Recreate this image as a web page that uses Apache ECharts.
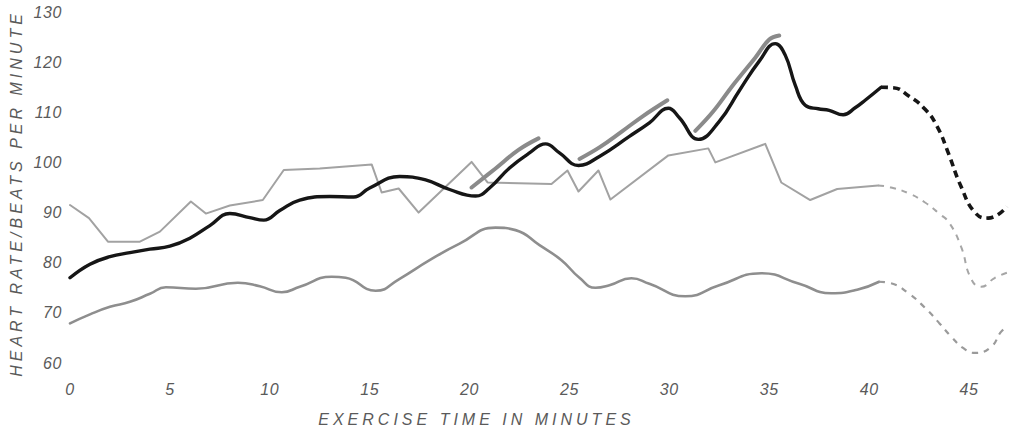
<!DOCTYPE html>
<html>
<head>
<meta charset="utf-8">
<script src="https://cdn.jsdelivr.net/npm/echarts@6/dist/echarts.min.js"></script>
<style>
  html, body { margin: 0; padding: 0; background: #fff; }
  #chart { width: 1010px; height: 436px; }
</style>
</head>
<body>
<div id="chart"></div>
<script>
// ---- data (minutes, beats per minute) ----
const yTicks = [60, 70, 80, 90, 100, 110, 120, 130];
const xTicks = [0, 5, 10, 15, 20, 25, 30, 35, 40, 45];

const blackSolid = [
  [0, 77.0], [1, 79.7], [2, 81.2], [3, 82.0], [4, 82.7], [5, 83.3], [6, 84.9],
  [7, 87.4], [8, 89.8], [9, 89.0], [9.7, 88.5], [10.5, 90.4], [11.5, 92.5],
  [13, 93.2], [14.2, 93.1], [15, 94.9], [16.5, 97.2], [17.8, 96.5], [19, 94.6],
  [20.3, 93.3], [21, 94.9], [22, 98.9], [23, 101.9], [23.8, 103.7], [24.5, 101.9],
  [25.45, 99.4], [26.5, 101.2], [28, 105.2], [29, 107.9], [29.95, 110.8],
  [30.5, 108.9], [31.45, 104.6], [32.5, 108.2], [33.5, 114.3], [34.5, 120.2],
  [35.3, 123.7], [35.8, 121.4], [36.3, 115.4], [36.8, 111.4], [37.45, 110.7],
  [38, 110.4], [38.7, 109.5], [39.3, 110.9], [39.8, 112.4], [40.6, 115.0]
];
const blackDashed = [
  [40.6, 115.0], [41.2, 114.9], [42, 113.2], [42.8, 110.6], [43.4, 107.2],
  [43.95, 102.0], [44.6, 95.2], [45.3, 90.0], [45.95, 88.9], [46.9, 91.2]
];
const highlight1 = [[20.1, 95.0], [21.3, 98.8], [22.45, 102.5], [23.45, 104.8]];
const highlight2 = [[25.5, 100.7], [26.5, 103.0], [27.6, 106.1], [28.7, 109.3], [29.9, 112.4]];
const highlight3 = [[31.3, 106.3], [32.2, 110.2], [33.2, 115.5], [34.3, 120.9], [35.0, 124.5], [35.5, 125.3]];

const graySolid = [
  [0, 91.5], [0.95, 88.9], [1.9, 84.2], [3.5, 84.2], [4.5, 86.2], [6.05, 92.2],
  [6.8, 89.8], [8, 91.4], [9.65, 92.5], [10.7, 98.5], [12.5, 98.8], [15.1, 99.6],
  [15.6, 94.0], [16.45, 94.8], [17.45, 90.0], [20.1, 100.1], [20.9, 96.0],
  [24.1, 95.7], [24.9, 98.4], [25.45, 94.2], [26.45, 98.4], [27.05, 92.6],
  [29.95, 101.4], [31.95, 102.8], [32.3, 100.0], [34.8, 103.7], [35.6, 96.0],
  [37.05, 92.5], [38.4, 94.7], [40.45, 95.4]
];
const grayDashed = [
  [40.45, 95.4], [41.1, 95.0], [42, 93.8], [42.8, 92.0], [43.5, 89.8], [44, 88.0],
  [44.6, 83.2], [45.1, 76.8], [45.6, 75.2], [46.3, 77.0], [46.9, 78.0]
];

const lowerSolid = [
  [0, 67.9], [1, 69.7], [2, 71.2], [3, 72.2], [4, 73.8], [4.8, 75.1], [6.3, 74.8],
  [8.4, 76.0], [9.5, 75.3], [10.6, 74.1], [11.5, 75.2], [13.1, 77.2], [13.8, 77.0],
  [15.3, 74.4], [16.5, 76.8], [18, 80.5], [19.5, 83.8], [21.3, 87.0], [22.3, 86.5],
  [23.5, 83.5], [24.6, 80.5], [25.5, 77.0], [26.3, 75.0], [27, 75.5], [28.1, 76.9],
  [29, 75.8], [30.8, 73.3], [32.5, 75.5], [34.6, 77.9], [36.5, 75.8], [38.1, 73.9],
  [39.4, 74.6], [40.5, 76.2]
];
const lowerDashed = [
  [40.5, 76.2], [41.1, 75.9], [42, 73.8], [42.8, 71.0], [43.5, 68.0], [44.1, 65.3],
  [44.7, 63.0], [45.3, 62.0], [46.1, 63.2], [46.6, 66.2], [46.9, 67.2]
];

const xName = 'EXERCISE TIME IN MINUTES';
const yName = 'HEART RATE/BEATS PER MINUTE';

// ---- chart ----
const chart = echarts.init(document.getElementById('chart'), null, { renderer: 'svg' });
const FONT = 'Liberation Sans';
const TXT = '#5a5a5a';

function line(data, color, width, opts) {
  return Object.assign({
    type: 'line', data: data, symbol: 'none', silent: true,
    lineStyle: { color: color, width: width, cap: 'round', join: 'round' },
    emphasis: { disabled: true }
  }, opts || {});
}

chart.setOption({
  animation: false,
  backgroundColor: '#ffffff',
  grid: { left: 70, right: 0, top: 12, bottom: 73 },
  xAxis: {
    type: 'value', min: 0, max: 46.9, interval: 5,
    name: xName, nameLocation: 'middle', nameGap: 48,
    nameTextStyle: { fontFamily: FONT, fontStyle: 'italic', fontSize: 16, color: TXT, padding: [0, 124, 0, 0] },
    axisLine: { show: false }, axisTick: { show: false }, splitLine: { show: false },
    axisLabel: {
      fontFamily: FONT, fontStyle: 'italic', fontSize: 16, color: TXT, margin: 18,
      formatter: function (v) { return xTicks.indexOf(v) >= 0 ? String(v) : ''; }
    }
  },
  yAxis: {
    type: 'value', min: 60, max: 130, interval: 10,
    name: yName, nameLocation: 'middle', nameGap: 46,
    nameTextStyle: { fontFamily: FONT, fontStyle: 'italic', fontSize: 16, color: TXT, padding: [0, 12, 0, 0] },
    axisLine: { show: false }, axisTick: { show: false }, splitLine: { show: false },
    axisLabel: {
      fontFamily: FONT, fontStyle: 'italic', fontSize: 16, color: TXT, margin: 8,
      formatter: function (v) { return yTicks.indexOf(v) >= 0 ? String(v) : ''; }
    }
  },
  series: [
    line(lowerSolid, '#8e8e8e', 2.6, { smooth: 0.5, z: 2 }),
    line(lowerDashed, '#9a9a9a', 2.2, { smooth: 0.5, z: 2, lineStyle: { color: '#9a9a9a', width: 2.2, type: [6, 6] } }),
    line(graySolid, '#a2a2a2', 2.0, { smooth: false, z: 3 }),
    line(grayDashed, '#a6a6a6', 2.0, { smooth: 0.5, z: 3, lineStyle: { color: '#a6a6a6', width: 2.0, type: [6, 6] } }),
    line(highlight1, '#8a8a8a', 4, { smooth: 0.4, z: 4 }),
    line(highlight2, '#8a8a8a', 4, { smooth: 0.4, z: 4 }),
    line(highlight3, '#8a8a8a', 4, { smooth: 0.4, z: 4 }),
    line(blackSolid, '#161616', 3.4, { smooth: 0.45, z: 5 }),
    line(blackDashed, '#161616', 3.6, { smooth: 0.5, z: 5, lineStyle: { color: '#161616', width: 3.6, type: [7, 5] } })
  ]
});

function spaceNames() {
  const texts = document.querySelectorAll('#chart text');
  texts.forEach(function (t) {
    const s = t.textContent;
    if (s === xName || s === yName) {
      t.style.letterSpacing = '4px';
    } else if (/^\d+$/.test(s)) {
      t.style.letterSpacing = '0.6px';
    }
  });
}
spaceNames();
chart.on('finished', spaceNames);
</script>
</body>
</html>
